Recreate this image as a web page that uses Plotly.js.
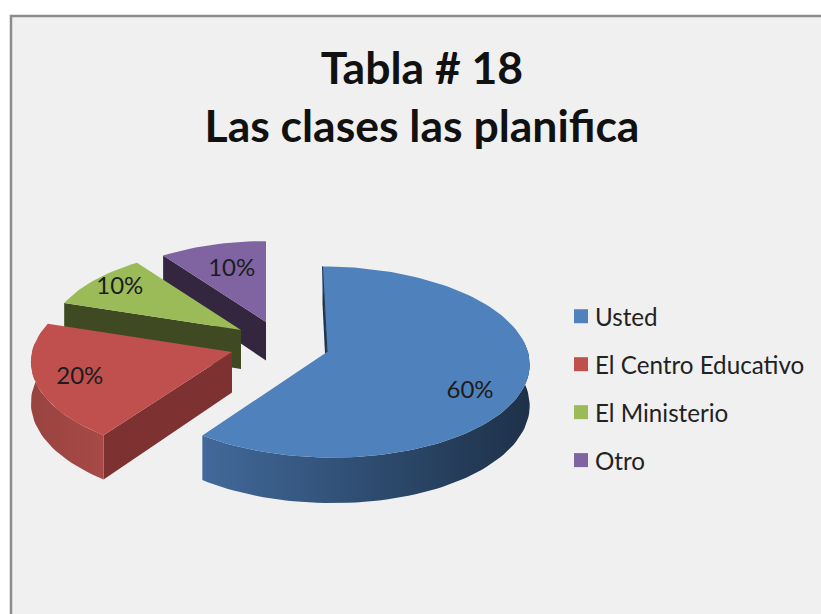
<!DOCTYPE html>
<html>
<head>
<meta charset="utf-8">
<script src="https://cdn.plot.ly/plotly-3.0.1.min.js"></script>
<style>html,body{margin:0;padding:0;background:#fff}#chart{width:821px;height:614px}</style>
</head>
<body>
<div id="chart"></div>
<script>
// Data
const categories = ["Usted", "El Centro Educativo", "El Ministerio", "Otro"];
const values = [60, 20, 10, 10];
const chartTitle = "Tabla # 18<br>Las clases las planifica";

// Styles
const topColors = ["#4f81bd", "#c0504d", "#9bbb59", "#8064a2"];
const cutColors = ["#1f3350", "#7d3231", "#3f4a22", "#35263f"];
const rimScales = [
  [[0, "#42699a"], [0.6, "#2b4769"], [1, "#1e3148"]],
  [[0, "#984340"], [1, "#a84a47"]],
  [[0, "#3f4a22"], [1, "#3f4a22"]],
  [[0, "#35263f"], [1, "#35263f"]]
];

// Projection of the exploded 3D pie onto the page
const apexX = [327, 232, 241, 266];
const apexY = [352, 352, 330, 322];
const sliceScale = [0.995, 0.99, 0.95, 0.94];
const sliceShear = [5, 0, 0, 0];
const labelFrac = [0.725, 0.78, 0.82, 0.62];
const labelShift = [18, 3, -1, -2];
const RX = 202, RY = 95, PERSP = 0.1047, DEPTH = 41;

function project(i, deg, r, down) {
  const t = deg * Math.PI / 180;
  const X = Math.sin(t) * r, Y = -Math.cos(t) * r;
  const w = 1 - PERSP * Y;
  const s = sliceScale[i];
  return [apexX[i] + s * RX * X / w + sliceShear[i] * Y / w,
          apexY[i] + s * (RY * Y + (down ? DEPTH : 0)) / w];
}
function arc(i, a0, a1, down) {
  const pts = [];
  const n = Math.max(2, Math.ceil(Math.abs(a1 - a0) / 2));
  for (let k = 0; k <= n; k++) pts.push(project(i, a0 + (a1 - a0) * k / n, 1, down));
  return pts;
}
function poly(pts, extra) {
  return Object.assign({
    type: "scatter", mode: "lines", fill: "toself",
    x: pts.map(p => p[0]), y: pts.map(p => p[1]),
    line: {width: 0}, hoverinfo: "skip", showlegend: false
  }, extra);
}

const total = values.reduce((a, b) => a + b, 0);
const starts = [];
values.reduce((acc, v, i) => { starts[i] = acc; return acc + v / total * 360; }, 0);
const FRONT0 = 84, FRONT1 = 276;

const faces = [], labels = [];
for (let i = values.length - 1; i >= 0; i--) {
  const a0 = starts[i], a1 = a0 + values[i] / total * 360;
  // cut wall along the starting edge
  const cut = [project(i, a0, 0, false), project(i, a0, 1, false), project(i, a0, 1, true), project(i, a0, 0, true)];
  faces.push(poly(cut, {fillcolor: cutColors[i]}));
  // outer wall, front part of the rim only
  const f0 = Math.max(a0, FRONT0), f1 = Math.min(a1, FRONT1);
  if (f1 > f0) {
    const rim = arc(i, f0, f1, false).concat(arc(i, f1, f0, true));
    faces.push(poly(rim, {
      fillcolor: cutColors[i],
      fillgradient: {type: "horizontal", colorscale: rimScales[i]}
    }));
  }
  // top face
  const top = [project(i, a0, 0, false)].concat(arc(i, a0, a1, false));
  faces.push(poly(top, {fillcolor: topColors[i]}));
  if (i === 0) {
    faces.push({
      type: "scatter", mode: "lines",
      x: [project(i, a0, 0, false)[0], project(i, a0, 1, false)[0]],
      y: [project(i, a0, 0, false)[1], project(i, a0, 1, false)[1]],
      line: {color: cutColors[0], width: 1}, hoverinfo: "skip", showlegend: false
    });
  }
  // percentage label
  const mid = project(i, (a0 + a1) / 2, labelFrac[i], false);
  labels.push({
    type: "scatter", mode: "text",
    x: [mid[0]], y: [mid[1] + labelShift[i]],
    text: [Math.round(values[i] / total * 100) + "%"],
    textposition: "middle center",
    textfont: {family: "Lato, sans-serif", size: 24, color: "#1c1c1c"},
    hoverinfo: "skip", showlegend: false
  });
}

const legendTraces = categories.map((c, i) => ({
  type: "scatter", mode: "markers", name: c, legendgroup: c,
  x: [null], y: [null],
  marker: {symbol: "square", size: 14, color: topColors[i]}
}));

const layout = {
  width: 821, height: 614,
  margin: {l: 0, r: 0, t: 0, b: 0},
  paper_bgcolor: "#ffffff", plot_bgcolor: "rgba(0,0,0,0)",
  xaxis: {range: [0, 821], visible: false, fixedrange: true},
  yaxis: {range: [614, 0], visible: false, fixedrange: true},
  title: {
    text: chartTitle,
    font: {family: "Lato, sans-serif", size: 44.5, color: "#111111", weight: 700},
    x: 422 / 821, xanchor: "center",
    y: 1 - 84 / 614, yanchor: "top"
  },
  legend: {
    x: 555 / 821, xanchor: "left", y: 1 - 294 / 614, yanchor: "top",
    bgcolor: "rgba(0,0,0,0)", tracegroupgap: 13.5,
    font: {family: "Lato, sans-serif", size: 24.2, color: "#222222"}
  },
  shapes: [{
    type: "rect", layer: "below", xref: "x", yref: "y",
    x0: 11, y0: 16, x1: 900, y1: 720,
    fillcolor: "#f0f0f0", line: {color: "#8c8c8c", width: 2.5}
  }]
};

Plotly.newPlot("chart", faces.concat(labels, legendTraces), layout, {displayModeBar: false, staticPlot: true}).then(gd => {
  // Plotly fixes the swatch-to-text gap; the reference sets its swatches closer to the text.
  gd.querySelectorAll(".legend .legendsymbols").forEach(g => g.setAttribute("transform", "translate(6,0)"));
});
</script>
</body>
</html>
